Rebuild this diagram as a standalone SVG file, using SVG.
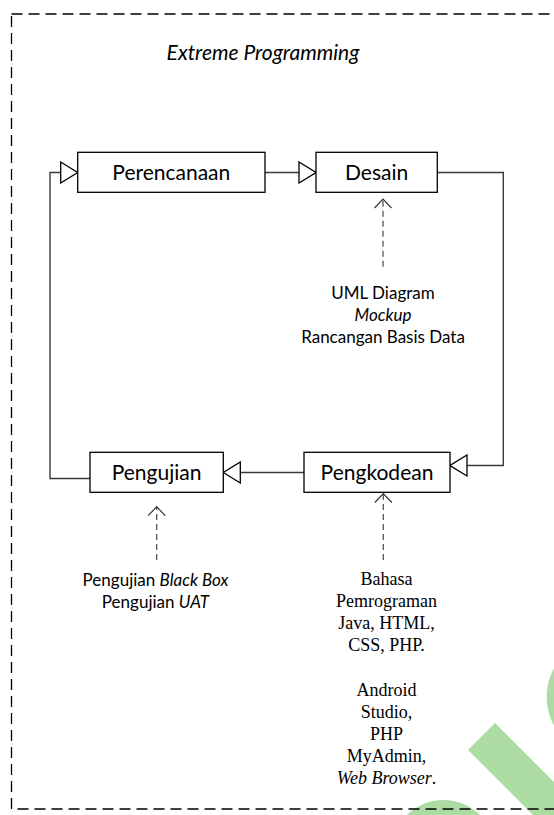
<svg xmlns="http://www.w3.org/2000/svg" width="554" height="815" viewBox="0 0 554 815">
  <style>
    .box { fill: #ffffff; stroke: #000000; stroke-width: 1.3; }
    .lbl { font-family: Lato, "Liberation Sans", sans-serif; font-size: 21px; fill: #000; text-anchor: middle; }
    .note { font-family: Lato, "Liberation Sans", sans-serif; font-size: 17px; fill: #000; text-anchor: middle; }
    .serif { font-family: "Liberation Serif", "Times New Roman", serif; font-size: 18px; fill: #000; text-anchor: middle; }
    .it { font-style: italic; }
    .flow { fill: none; stroke: #3a3a3a; stroke-width: 1.4; }
    .dep { fill: none; stroke: #555555; stroke-width: 1.3; stroke-dasharray: 6 4; }
    .wm { fill: #acdca4; }
  </style>
  <defs>
    <marker id="tri" viewBox="-1 -1 19 23" markerWidth="19" markerHeight="23" refX="17" refY="10.5" orient="auto" markerUnits="userSpaceOnUse">
      <path d="M0,0 L17,10.5 L0,21 Z" fill="#ffffff" stroke="#000000" stroke-width="1.3"/>
    </marker>
    <marker id="vee" viewBox="-11 -10 13 20" markerWidth="13" markerHeight="20" refX="0" refY="0" orient="auto" markerUnits="userSpaceOnUse">
      <path d="M-9,-8.5 L0,0 L-9,8.5" fill="none" stroke="#333333" stroke-width="1.2"/>
    </marker>
  </defs>

  <rect width="554" height="815" fill="#ffffff"/>

  <g id="watermark">
    <circle class="wm" cx="606" cy="697" r="59.3"/>
    <polygon class="wm" points="495,723 468,750 568,850 595,823"/>
    <circle class="wm" cx="443.5" cy="852" r="52"/>
  </g>

  <g id="frame">
    <rect x="11.5" y="14" width="580" height="795" fill="none" stroke="#000" stroke-width="1.3" stroke-dasharray="11 6"/>
  </g>

  <g id="title">
    <text class="lbl it" x="263" y="60">Extreme Programming</text>
  </g>

  <g id="connectors">
    <line class="flow" x1="265" y1="172.5" x2="316" y2="172.5" marker-end="url(#tri)"/>
    <polyline class="flow" points="437.3,172.5 503.3,172.5 503.3,465.5 450,465.5" marker-end="url(#tri)"/>
    <line class="flow" x1="304" y1="472.5" x2="223.3" y2="472.5" marker-end="url(#tri)"/>
    <polyline class="flow" points="90,478.5 50,478.5 50,172.5 77.7,172.5" marker-end="url(#tri)"/>
    <line class="dep" x1="383" y1="266.7" x2="383" y2="199" marker-end="url(#vee)"/>
    <line class="dep" x1="156.7" y1="560" x2="156.7" y2="506.7" marker-end="url(#vee)"/>
    <line class="dep" x1="383.3" y1="560" x2="383.3" y2="493.5" marker-end="url(#vee)"/>
  </g>

  <g id="perencanaan">
    <rect class="box" x="77.7" y="152.3" width="187.3" height="40"/>
    <text class="lbl" x="171.3" y="179.5">Perencanaan</text>
  </g>
  <g id="desain">
    <rect class="box" x="316" y="152.3" width="121.3" height="40"/>
    <text class="lbl" x="376.6" y="179.5">Desain</text>
  </g>
  <g id="pengujian">
    <rect class="box" x="90" y="452.3" width="133.3" height="40"/>
    <text class="lbl" x="156.6" y="479.5">Pengujian</text>
  </g>
  <g id="pengkodean">
    <rect class="box" x="304" y="452.3" width="146" height="40"/>
    <text class="lbl" x="377" y="479.5">Pengkodean</text>
  </g>

  <g id="note-desain">
    <text class="note" x="383" y="299">UML Diagram</text>
    <text class="note it" x="383" y="321">Mockup</text>
    <text class="note" x="383" y="343">Rancangan Basis Data</text>
  </g>
  <g id="note-pengujian">
    <text class="note" x="155.5" y="586">Pengujian <tspan class="it">Black Box</tspan></text>
    <text class="note" x="155.5" y="607.5">Pengujian <tspan class="it">UAT</tspan></text>
  </g>
  <g id="note-pengkodean">
    <text class="serif" x="386.5" y="585">Bahasa</text>
    <text class="serif" x="386.5" y="606.7">Pemrograman</text>
    <text class="serif" x="386.5" y="628.5">Java, HTML,</text>
    <text class="serif" x="386.5" y="650.5">CSS, PHP.</text>
    <text class="serif" x="386.5" y="696">Android</text>
    <text class="serif" x="386.5" y="717.5">Studio,</text>
    <text class="serif" x="386.5" y="740">PHP</text>
    <text class="serif" x="386.5" y="761.7">MyAdmin,</text>
    <text class="serif" x="386.5" y="784"><tspan class="it">Web Browser</tspan>.</text>
  </g>
</svg>
